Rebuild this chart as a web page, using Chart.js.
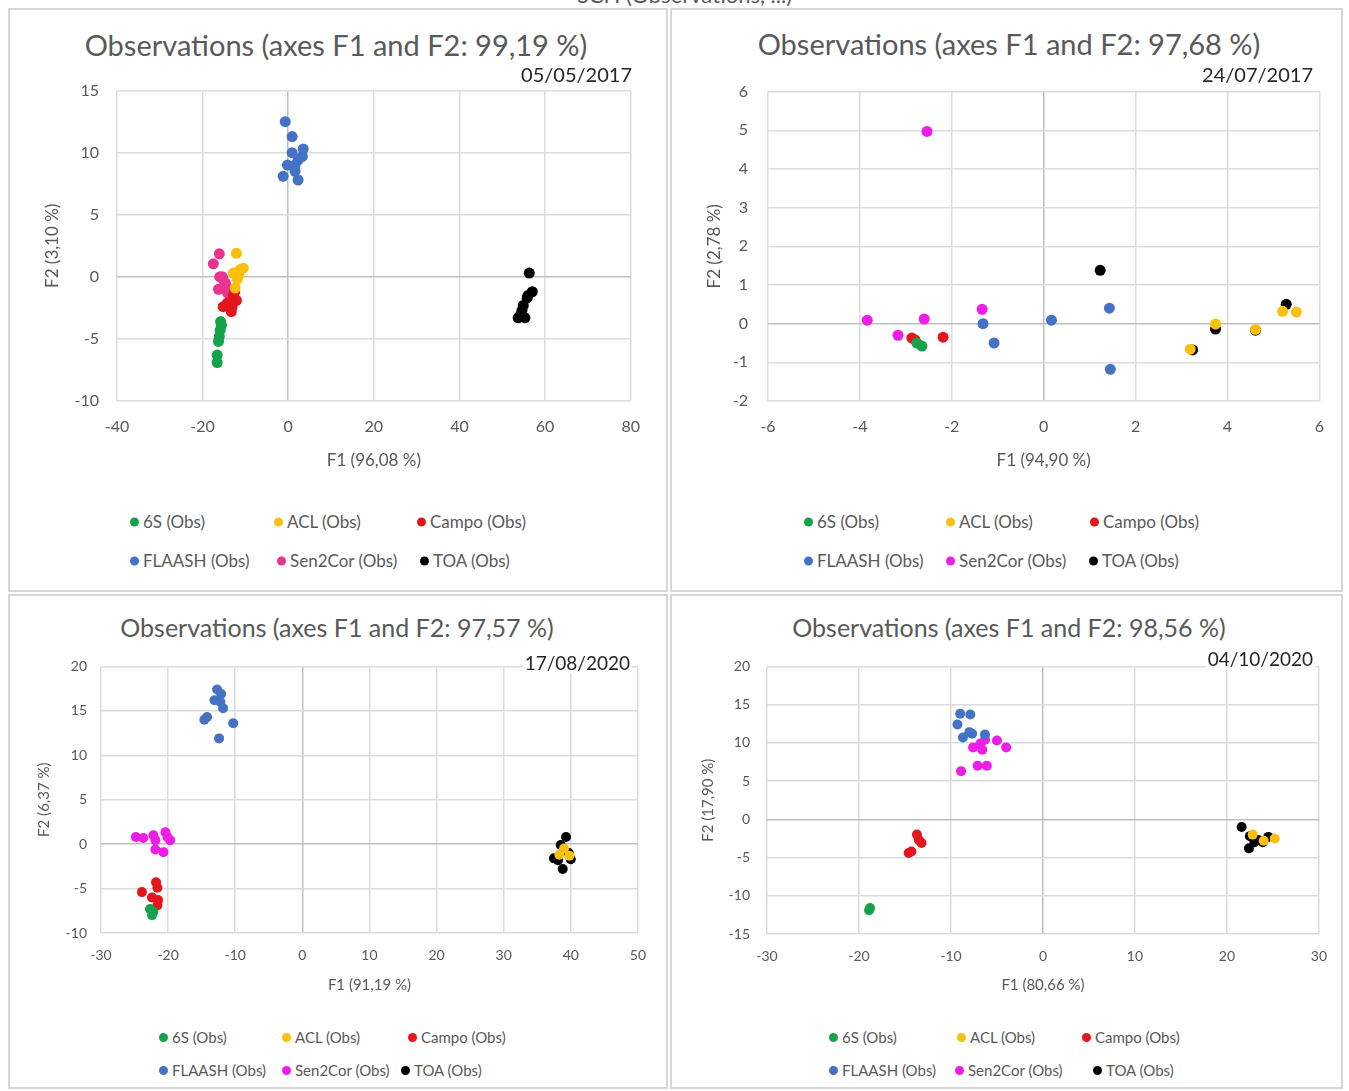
<!DOCTYPE html>
<html>
<head>
<meta charset="utf-8">
<script src="https://cdn.jsdelivr.net/npm/chart.js@4.4.0/dist/chart.umd.min.js"></script>
<style>
  body { margin: 0; background: #fff; font-family: Lato, "Open Sans", sans-serif; }
  #page { position: relative; width: 1349px; height: 1091px; overflow: hidden; background: #fff; }
  .panel { position: absolute; border: 2px solid #d6d6d6; box-sizing: border-box; }
  canvas { position: absolute; z-index: 1; }
  .title { position: absolute; color: #595959; white-space: nowrap; transform: translate(-50%, -50%); }
  .date { position: absolute; color: #262626; white-space: nowrap; transform: translate(-100%, -50%);
          z-index: 2; background: #fff; padding: 0 2px; line-height: 1.1; }
  .leg { position: absolute; color: #595959; white-space: nowrap; transform: translateY(-50%); }
  .leg i { display: inline-block; width: 9px; height: 9px; border-radius: 50%; margin-right: 4px; vertical-align: 1px; }
  .top { position: absolute; left: 10px; width: 1349px; top: -19px; text-align: center; font-size: 22px; color: #595959; }
</style>
</head>
<body>
<div id="page">
  <div class="top">SCH (Observations, ...)</div>
</div>
<script>
// series names (legend order)
const seriesNames = ['6S (Obs)', 'ACL (Obs)', 'Campo (Obs)', 'FLAASH (Obs)', 'Sen2Cor (Obs)', 'TOA (Obs)'];

// ---- 05/05/2017 ----
const p1_6S = [[-15.6,-3.9],[-15.9,-4.3],[-16.1,-4.8],[-16.3,-5.2],[-16.6,-6.3],[-16.6,-6.9],[-15.8,-3.6]];
const p1_ACL = [[-12.1,1.9],[-11.2,0.6],[-12.8,0.3],[-10.5,0.7],[-11.9,-0.2],[-12.4,-0.9],[-11.5,0.2]];
const p1_Campo = [[-12.8,-1.5],[-14.2,-2.1],[-13.3,-2.8],[-12.1,-1.9],[-15.2,-2.4],[-13.1,-2.4],[-12.5,-1.2]];
const p1_FLAASH = [[-0.7,12.5],[0.9,11.3],[3.5,10.3],[0.9,10.0],[2.3,9.4],[-0.2,9.0],[1.6,9.0],[-1.2,8.1],[2.3,7.8],[1.6,8.5],[3.3,9.7]];
const p1_Sen2Cor = [[-16.1,1.85],[-17.5,1.05],[-15.4,0],[-14.7,-0.5],[-16.3,-1.0],[-14.0,-0.9],[-15.2,-0.2],[-13.5,-2.1],[-14.2,-1.3],[-16.0,0.0]];
const p1_TOA = [[56.3,0.3],[57.0,-1.2],[55.8,-1.7],[54.9,-2.3],[54.2,-3.1],[55.3,-3.3],[53.7,-3.3],[54.6,-2.7],[56.0,-1.5]];

// ---- 24/07/2017 ----
const p2_6S = [[-2.65,-0.58],[-2.76,-0.5]];
const p2_ACL = [[3.74,-0.01],[3.19,-0.66],[5.2,0.32],[5.5,0.3],[4.61,-0.15]];
const p2_Campo = [[-2.87,-0.37],[-2.8,-0.42],[-2.19,-0.35]];
const p2_FLAASH = [[-1.32,0.0],[-1.08,-0.5],[0.17,0.09],[1.43,0.4],[1.45,-1.18]];
const p2_Sen2Cor = [[-2.54,4.97],[-3.84,0.09],[-2.6,0.12],[-3.17,-0.3],[-1.34,0.37]];
const p2_TOA = [[1.23,1.38],[3.74,-0.14],[3.24,-0.68],[4.61,-0.17],[5.28,0.5]];

// ---- 17/08/2020 ----
const p3_6S = [[-22.2,-7.6],[-22.4,-8.0],[-22.7,-7.3]];
const p3_ACL = [[39.0,-0.5],[38.3,-1.2],[39.8,-1.3]];
const p3_Campo = [[-21.8,-4.3],[-21.6,-4.9],[-23.9,-5.4],[-22.4,-6.0],[-21.5,-6.3],[-21.6,-6.9]];
const p3_FLAASH = [[-12.7,17.4],[-12.1,16.9],[-13.1,16.2],[-12.2,16.0],[-11.8,15.3],[-14.2,14.3],[-14.6,14.0],[-10.3,13.6],[-12.4,11.9]];
const p3_Sen2Cor = [[-24.8,0.8],[-23.7,0.7],[-22.2,1.0],[-21.9,0.45],[-20.4,1.35],[-19.7,0.45],[-21.9,-0.6],[-20.7,-0.9],[-20.1,0.8]];
const p3_TOA = [[39.3,0.8],[38.5,-0.1],[39.7,-1.0],[37.5,-1.6],[40.0,-1.7],[38.8,-2.8],[38.1,-1.8]];

// ---- 04/10/2020 ----
const p4_6S = [[-18.9,-11.9],[-18.8,-11.6]];
const p4_ACL = [[25.2,-2.5],[22.8,-2.0],[24.0,-2.8]];
const p4_Campo = [[-13.7,-2.0],[-13.2,-3.1],[-14.3,-4.2],[-14.6,-4.4],[-13.5,-2.7]];
const p4_FLAASH = [[-9.0,13.8],[-7.9,13.7],[-9.3,12.4],[-8.7,10.7],[-7.7,11.2],[-6.3,11.1],[-8.0,11.4]];
const p4_Sen2Cor = [[-7.6,9.4],[-6.8,9.9],[-5.0,10.3],[-4.0,9.4],[-6.6,9.1],[-7.1,7.0],[-6.1,7.0],[-8.9,6.3],[-6.3,10.4]];
const p4_TOA = [[21.6,-1.0],[22.5,-2.2],[22.4,-3.8],[23.4,-2.7],[24.5,-2.3],[23.9,-3.0],[23.0,-3.0]];

// titles / axis labels / scales
const titles = ['Observations (axes F1 and F2: 99,19 %)', 'Observations (axes F1 and F2: 97,68 %)',
                'Observations (axes F1 and F2: 97,57 %)', 'Observations (axes F1 and F2: 98,56 %)'];
const dates = ['05/05/2017', '24/07/2017', '17/08/2020', '04/10/2020'];
const xTitles = ['F1 (96,08 %)', 'F1 (94,90 %)', 'F1 (91,19 %)', 'F1 (80,66 %)'];
const yTitles = ['F2 (3,10 %)', 'F2 (2,78 %)', 'F2 (6,37 %)', 'F2 (17,90 %)'];
const xRanges = [[-40, 80, 20], [-6, 6, 2], [-30, 50, 10], [-30, 30, 10]];
const yRanges = [[-10, 15, 5], [-2, 6, 1], [-10, 20, 5], [-15, 20, 5]];

const allData = [
  [p1_6S, p1_ACL, p1_Campo, p1_FLAASH, p1_Sen2Cor, p1_TOA],
  [p2_6S, p2_ACL, p2_Campo, p2_FLAASH, p2_Sen2Cor, p2_TOA],
  [p3_6S, p3_ACL, p3_Campo, p3_FLAASH, p3_Sen2Cor, p3_TOA],
  [p4_6S, p4_ACL, p4_Campo, p4_FLAASH, p4_Sen2Cor, p4_TOA]
];

const colorsA = ['#14a24a', '#fbbf0d', '#e4151c', '#4472c4', '#e8348f', '#000000'];
const colorsB = ['#14a24a', '#fbbf0d', '#e4151c', '#4472c4', '#ee1ee6', '#000000'];

// layout of each panel (page pixels)
const layouts = [
  { box: [8, 8, 660, 584], canvas: [20, 63, 636, 413], wy: 97, hx: 75, pr: 20, pt: 11,
    tickSize: 16, axSize: 17, tickPadX: 16, tickPadY: 18, yTitlePad: 22, xTitlePad: 5,
    title: [336, 44, 29], date: [634, 74, 20],
    legSize: 17, leg: [[130,521],[274,521],[417,521],[130,560],[277,560],[420,560]], colors: colorsA },
  { box: [670, 8, 673, 584], canvas: [680, 62, 660, 414], wy: 88, hx: 75, pr: 15, pt: 11,
    tickSize: 16, axSize: 17, tickPadX: 16, tickPadY: 20, yTitlePad: 24, xTitlePad: 5,
    title: [1009, 43, 29], date: [1315, 74, 20],
    legSize: 17, leg: [[804,521],[946,521],[1090,521],[804,560],[946,560],[1089,560]], colors: colorsB },
  { box: [8, 594, 660, 495], canvas: [15, 644, 645, 354], wy: 86, hx: 65, pr: 15, pt: 11,
    tickSize: 14, axSize: 15, tickPadX: 14, tickPadY: 14, yTitlePad: 20, xTitlePad: 4,
    title: [337, 627, 25], date: [632, 663, 19],
    legSize: 15, leg: [[159,1037],[282,1037],[408,1037],[159,1070],[282,1070],[401,1070]], colors: colorsB },
  { box: [670, 594, 673, 495], canvas: [680, 641, 661, 357], wy: 87, hx: 64, pr: 15, pt: 11,
    tickSize: 14, axSize: 15, tickPadX: 14, tickPadY: 17, yTitlePad: 19, xTitlePad: 4,
    title: [1009, 627, 25], date: [1315, 659, 19],
    legSize: 15, leg: [[829,1037],[957,1037],[1082,1037],[829,1070],[955,1070],[1093,1070]], colors: colorsB }
];

const page = document.getElementById('page');
const FONT = 'Lato, "Open Sans", sans-serif';

function gridColor(c) {
  return c.tick && c.tick.value === 0 ? '#bfbfbf' : '#dcdcdc';
}

layouts.forEach(function (lay, i) {
  // panel frame
  const box = document.createElement('div');
  box.className = 'panel';
  box.style.left = lay.box[0] + 'px'; box.style.top = lay.box[1] + 'px';
  box.style.width = lay.box[2] + 'px'; box.style.height = lay.box[3] + 'px';
  page.appendChild(box);

  // title and date
  const t = document.createElement('div');
  t.className = 'title'; t.textContent = titles[i];
  t.style.left = lay.title[0] + 'px'; t.style.top = lay.title[1] + 'px'; t.style.fontSize = lay.title[2] + 'px';
  page.appendChild(t);
  const d = document.createElement('div');
  d.className = 'date'; d.textContent = dates[i];
  d.style.left = lay.date[0] + 'px'; d.style.top = lay.date[1] + 'px'; d.style.fontSize = lay.date[2] + 'px';
  page.appendChild(d);

  // legend
  seriesNames.forEach(function (name, k) {
    const it = document.createElement('div');
    it.className = 'leg';
    it.style.left = lay.leg[k][0] + 'px'; it.style.top = lay.leg[k][1] + 'px';
    it.style.fontSize = lay.legSize + 'px';
    it.innerHTML = '<i style="background:' + lay.colors[k] + '"></i>' + name;
    page.appendChild(it);
  });

  // chart
  const cv = document.createElement('canvas');
  cv.width = lay.canvas[2]; cv.height = lay.canvas[3];
  cv.style.left = lay.canvas[0] + 'px'; cv.style.top = lay.canvas[1] + 'px';
  cv.style.width = lay.canvas[2] + 'px'; cv.style.height = lay.canvas[3] + 'px';
  page.appendChild(cv);

  const datasets = allData[i].map(function (pts, k) {
    return {
      label: seriesNames[k],
      data: pts.map(function (p) { return { x: p[0], y: p[1] }; }),
      backgroundColor: lay.colors[k],
      borderWidth: 0,
      pointRadius: i < 2 ? 5.5 : 5,
      pointHoverRadius: 5
    };
  });

  new Chart(cv, {
    type: 'scatter',
    data: { datasets: datasets },
    options: {
      responsive: false,
      animation: false,
      layout: { padding: { left: 0, right: lay.pr, top: lay.pt, bottom: 0 } },
      plugins: { legend: { display: false }, tooltip: { enabled: false } },
      scales: {
        x: {
          type: 'linear', min: xRanges[i][0], max: xRanges[i][1],
          ticks: { stepSize: xRanges[i][2], color: '#595959', padding: lay.tickPadX,
                   font: { family: FONT, size: lay.tickSize } },
          grid: { color: gridColor, lineWidth: 1.5, drawTicks: false },
          border: { display: false },
          title: { display: true, text: xTitles[i], color: '#595959',
                   font: { family: FONT, size: lay.axSize }, padding: { top: 0, bottom: lay.xTitlePad } },
          afterFit: function (s) { s.height = lay.hx; }
        },
        y: {
          type: 'linear', min: yRanges[i][0], max: yRanges[i][1],
          ticks: { stepSize: yRanges[i][2], color: '#595959', padding: lay.tickPadY,
                   font: { family: FONT, size: lay.tickSize } },
          grid: { color: gridColor, lineWidth: 1.5, drawTicks: false },
          border: { display: false },
          title: { display: true, text: yTitles[i], color: '#595959',
                   font: { family: FONT, size: lay.axSize }, padding: { top: lay.yTitlePad, bottom: 0 } },
          afterFit: function (s) { s.width = lay.wy; }
        }
      }
    }
  });
});
</script>
</body>
</html>
